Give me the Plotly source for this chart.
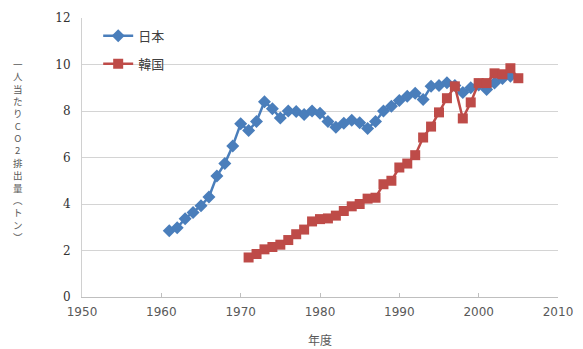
import plotly.graph_objects as go

# Per-capita CO2 emissions (tonnes)
japan_years = list(range(1961, 2005))
japan_values = [2.85, 2.98, 3.37, 3.63, 3.93, 4.30, 5.20, 5.74, 6.50, 7.45,
                7.16, 7.55, 8.40, 8.10, 7.70, 8.00, 7.98, 7.85, 8.00, 7.90,
                7.55, 7.30, 7.47, 7.60, 7.50, 7.25, 7.55, 8.00, 8.20, 8.45,
                8.63, 8.76, 8.50, 9.06, 9.10, 9.22, 9.10, 8.80, 9.00, 9.12,
                8.92, 9.20, 9.40, 9.50]

korea_years = list(range(1971, 2006))
korea_values = [1.70, 1.85, 2.05, 2.15, 2.25, 2.45, 2.70, 2.90, 3.25, 3.35,
                3.38, 3.50, 3.70, 3.90, 4.00, 4.23, 4.27, 4.85, 5.00, 5.57,
                5.74, 6.10, 6.86, 7.33, 7.94, 8.55, 9.06, 7.68, 8.37, 9.20,
                9.20, 9.62, 9.58, 9.84, 9.41]

x_ticks = [1950, 1960, 1970, 1980, 1990, 2000, 2010]
y_ticks = [0, 2, 4, 6, 8, 10, 12]
y_grid = [2, 4, 6, 8, 10]

y_title = ["一", "人", "当", "た", "り", "C", "O", "2", "排", "出", "量", "︵", "ト", "ン", "︶"]

BLUE = "#4a7ebb"
RED = "#be4b48"
GRAY = "#595959"

fig = go.Figure()

# empty trace on the overlay axis that carries the horizontal grid
fig.add_trace(go.Scatter(x=[None], y=[None], yaxis="y2", showlegend=False, hoverinfo="skip"))

fig.add_trace(go.Scatter(
    x=japan_years, y=japan_values, name="日本", mode="lines+markers",
    line=dict(color=BLUE, width=2.5),
    marker=dict(symbol="diamond", size=10, color=BLUE),
    legendgroup="jp",
))
fig.add_trace(go.Scatter(
    x=korea_years, y=korea_values, name="韓国", mode="lines+markers",
    line=dict(color=RED, width=2.5),
    marker=dict(symbol="square", size=10, color=RED),
    legendgroup="kr",
))

fig.update_layout(
    width=583, height=349,
    margin=dict(l=82, r=25, t=18, b=52),
    paper_bgcolor="white", plot_bgcolor="white",
    font=dict(family="Noto Sans CJK JP", color=GRAY),
    showlegend=True,
    legend=dict(
        x=0.034, y=0.99, xanchor="left", yanchor="top",
        font=dict(size=13, color="#404040", family="Noto Sans CJK JP"),
        bgcolor="rgba(0,0,0,0)", tracegroupgap=8, itemwidth=30,
    ),
    xaxis=dict(
        range=[1950, 2010], tickvals=x_ticks, showgrid=False,
        showline=True, linecolor="#bfbfbf", linewidth=1,
        ticks="inside", ticklen=4, tickcolor="#bfbfbf",
        ticklabelstandoff=4, automargin=False,
        tickfont=dict(family="DejaVu Sans", size=12, color=GRAY),
        title=dict(text="年度", font=dict(size=12, color=GRAY), standoff=18),
        zeroline=False,
    ),
    yaxis=dict(
        range=[0, 12], tickvals=y_ticks, showgrid=False,
        showline=True, linecolor="#d0d0d0", linewidth=1,
        ticks="", ticklabelstandoff=8, automargin=False,
        tickfont=dict(family="DejaVu Serif", size=12, color="#333333"),
        zeroline=False,
    ),
    yaxis2=dict(
        range=[0, 12], tickvals=y_grid, overlaying="y", side="left",
        showgrid=True, gridcolor="#d4d4d4", gridwidth=1, automargin=False,
        showticklabels=False, ticks="", showline=False, zeroline=False,
    ),
)

# vertically stacked axis title, one character per line
fig.add_annotation(
    text="<br>".join(y_title), xref="paper", yref="paper",
    x=-0.135, y=0.525, xanchor="center", yanchor="middle", showarrow=False,
    font=dict(size=9.5, color=GRAY, family="Noto Sans CJK JP"),
)

fig.write_html("out.html")
